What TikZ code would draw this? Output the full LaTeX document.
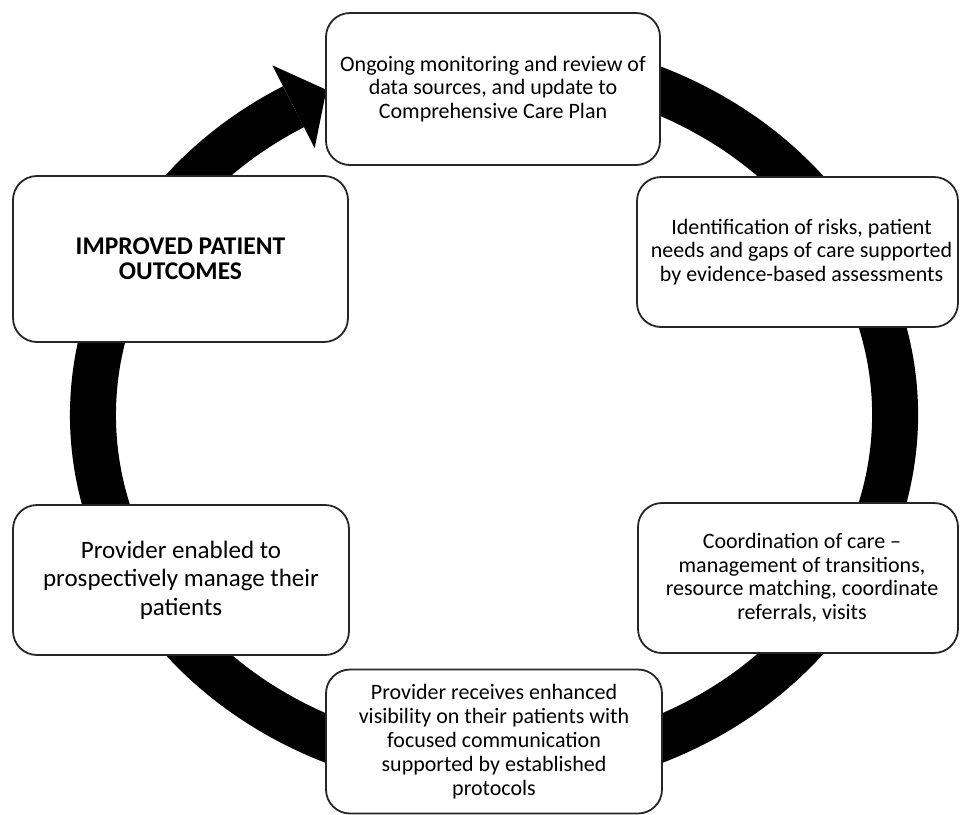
\documentclass[tikz,border=0pt]{standalone}
\usepackage{fontspec}
\setmainfont{Carlito}
\begin{document}
\begin{tikzpicture}[x=1pt,y=1pt,
  box/.style={draw=black!85, line width=1.8pt, fill=white, rounded corners=24pt,
    align=center, inner sep=0pt, font=\fontsize{22}{23.5}\selectfont},
  ring/.style={line width=46pt, black}]
\useasboundingbox (0,0) rectangle (961,-814);
% cycle ring
\draw[ring] (494,-415) ++(112:401pt and 356pt)
  arc[start angle=112, end angle=-240, x radius=401pt, y radius=356pt];
% arrow head
\fill[black] (272.3,-65.3) -- (326.4,-89.8) -- (314.7,-148.1) -- cycle;
% boxes
\node[box, minimum width=334pt, minimum height=152pt] (n1) at (493,-89)
  {Ongoing monitoring and review of\\data sources, and update to\\Comprehensive Care Plan};
\node[box, minimum width=321pt, minimum height=150pt] (n2) at (797.5,-252)
  {\hspace*{8pt}Identification of risks, patient\\\hspace*{8pt}needs and gaps of care supported\\\hspace*{8pt}by evidence-based assessments};
\node[box, minimum width=335pt, minimum height=166pt, font=\fontsize{25.5}{25}\selectfont] (n3) at (180.5,-259)
  {\textbf{IMPROVED PATIENT}\\\textbf{OUTCOMES}};
\node[box, minimum width=320pt, minimum height=150pt] (n4) at (798,-578)
  {\hspace*{8pt}Coordination of care --\\\hspace*{8pt}management of transitions,\\\hspace*{8pt}resource matching, coordinate\\\hspace*{8pt}referrals, visits};
\node[box, minimum width=336pt, minimum height=150pt, font=\fontsize{25}{28.5}\selectfont] (n5) at (181,-580)
  {Provider enabled to\\prospectively manage their\\patients};
\node[box, minimum width=336pt, minimum height=144pt, font=\fontsize{22}{24}\selectfont] (n6) at (494,-741.5)
  {Provider receives enhanced\\visibility on their patients with\\focused communication\\supported by established\\protocols};
\end{tikzpicture}
\end{document}
